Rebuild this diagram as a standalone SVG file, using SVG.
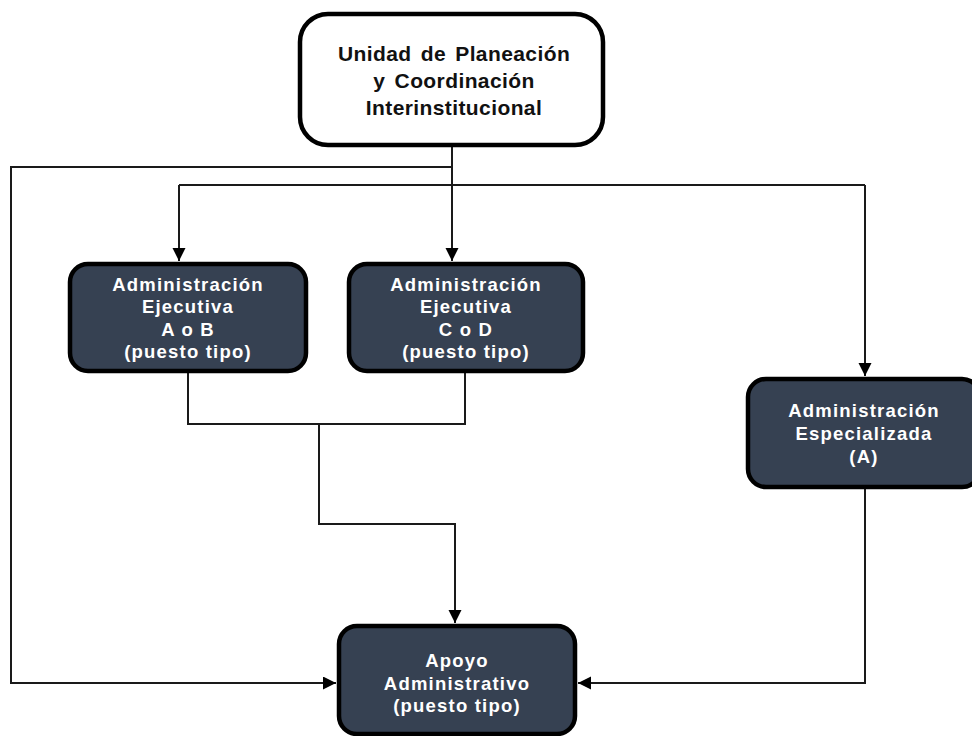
<svg xmlns="http://www.w3.org/2000/svg" width="972" height="736" viewBox="0 0 972 736">
<style>
  .box { fill: #364152; stroke: #000; stroke-width: 4.5; }
  .top { fill: #fff; stroke: #000; stroke-width: 4.5; }
  .t { font-family: "Liberation Sans", Arial, sans-serif; font-weight: bold; text-anchor: middle; }
  .w { fill: #fff; font-size: 18.5px; letter-spacing: 1.2px; }
  .k { fill: #111; font-size: 21px; letter-spacing: 0.4px; word-spacing: 3px; }
  .c { fill: none; stroke: #1a1a1a; stroke-width: 2; }
</style>
<defs>
  <marker id="arr" markerUnits="userSpaceOnUse" markerWidth="14" markerHeight="14" refX="13" refY="6.5" orient="auto">
    <path d="M0,0 L13,6.5 L0,13 z" fill="#000"/>
  </marker>
</defs>
<rect width="972" height="736" fill="#fff"/>
<g id="connectors">
  <path class="c" d="M452,147 V261" marker-end="url(#arr)"/>
  <path class="c" d="M452,167 H11 V683 H336" marker-end="url(#arr)"/>
  <path class="c" d="M179,185 H865"/>
  <path class="c" d="M179,185 V261" marker-end="url(#arr)"/>
  <path class="c" d="M865,185 V376" marker-end="url(#arr)"/>
  <path class="c" d="M188,373 V424 H465 V373"/>
  <path class="c" d="M319,424 V524 H455 V623" marker-end="url(#arr)"/>
  <path class="c" d="M865,489 V683 H578" marker-end="url(#arr)"/>
</g>
<g id="unidad">
  <rect class="top" x="300" y="14" width="303" height="131" rx="28"/>
  <text class="t k" x="454" y="61">Unidad de Planeación</text>
  <text class="t k" x="454" y="88">y Coordinación</text>
  <text class="t k" x="454" y="115">Interinstitucional</text>
</g>
<g id="ejecutiva-ab">
  <rect class="box" x="70" y="264" width="236" height="107" rx="18"/>
  <text class="t w" x="188" y="291">Administración</text>
  <text class="t w" x="188" y="313">Ejecutiva</text>
  <text class="t w" x="188" y="336">A o B</text>
  <text class="t w" x="188" y="358">(puesto tipo)</text>
</g>
<g id="ejecutiva-cd">
  <rect class="box" x="349" y="264" width="234" height="107" rx="18"/>
  <text class="t w" x="466" y="291">Administración</text>
  <text class="t w" x="466" y="313">Ejecutiva</text>
  <text class="t w" x="466" y="336">C o D</text>
  <text class="t w" x="466" y="358">(puesto tipo)</text>
</g>
<g id="especializada">
  <rect class="box" x="748" y="379" width="232" height="108" rx="18"/>
  <text class="t w" x="864" y="417">Administración</text>
  <text class="t w" x="864" y="440">Especializada</text>
  <text class="t w" x="864" y="463">(A)</text>
</g>
<g id="apoyo">
  <rect class="box" x="339" y="626" width="236" height="108" rx="18"/>
  <text class="t w" x="457" y="667">Apoyo</text>
  <text class="t w" x="457" y="690">Administrativo</text>
  <text class="t w" x="457" y="712">(puesto tipo)</text>
</g>
</svg>
